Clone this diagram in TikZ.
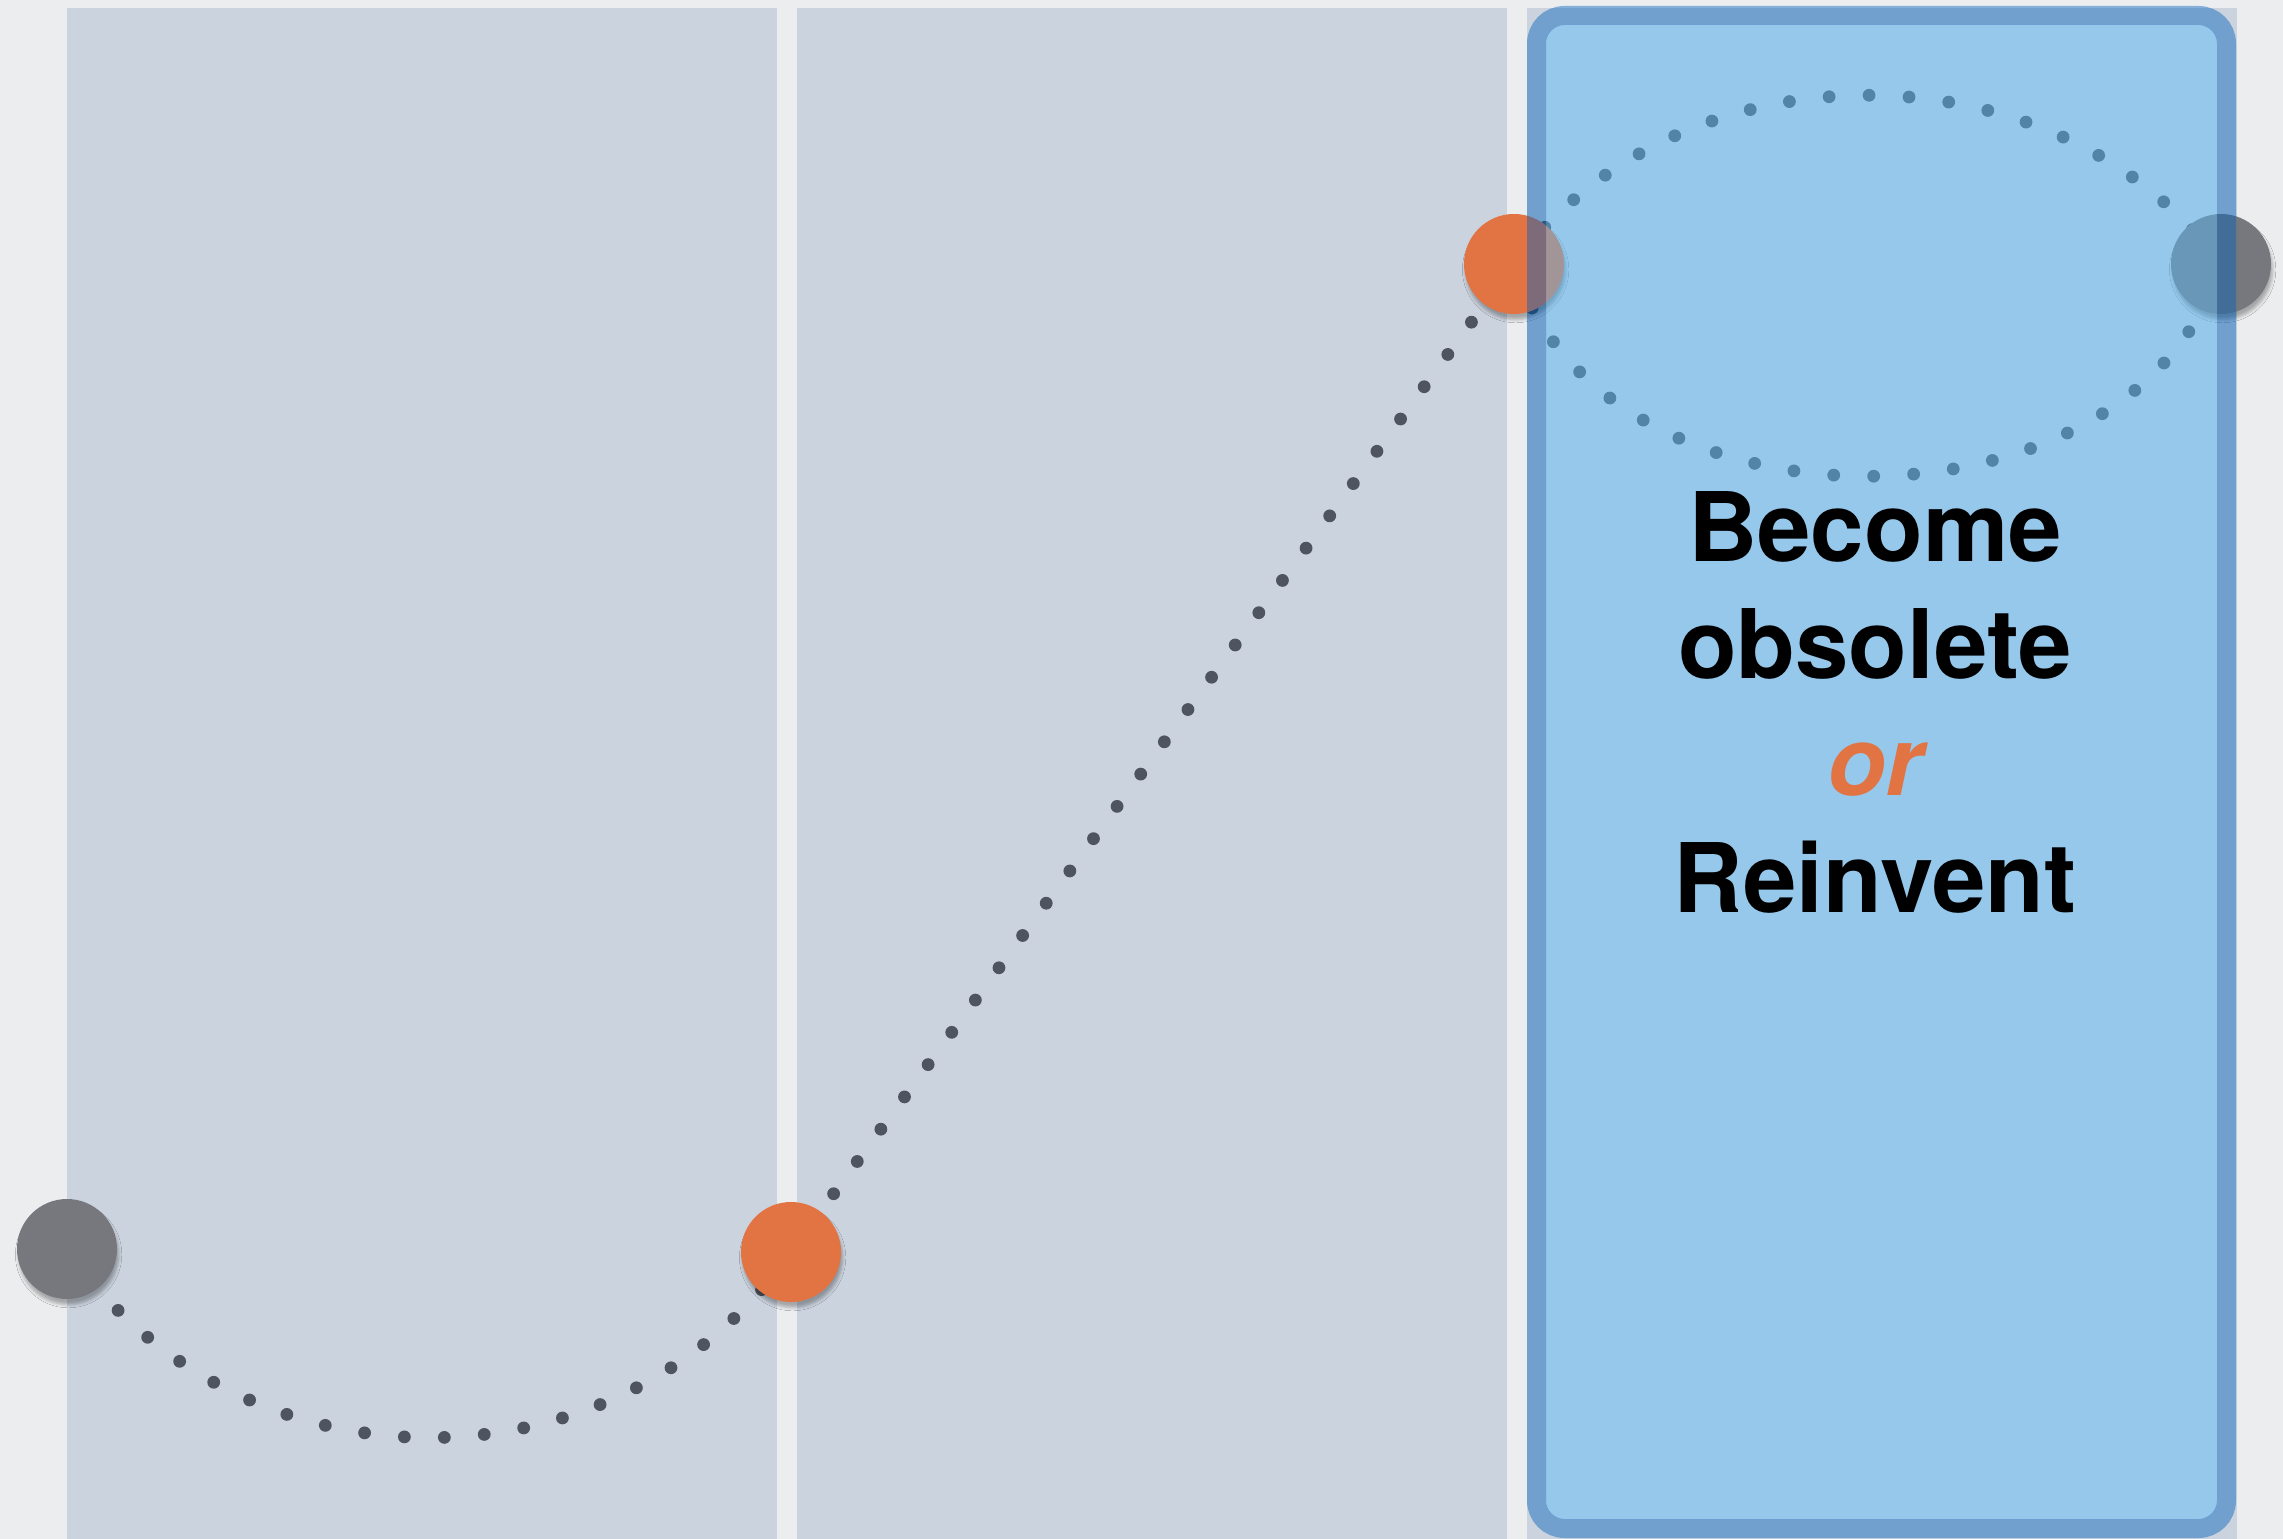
\documentclass[tikz,border=0pt]{standalone}
\usepackage{fontspec}
\setmainfont{TeX Gyre Heros}
\usetikzlibrary{shadows.blur}

\definecolor{paper}{RGB}{236,237,239}
\definecolor{panecol}{RGB}{203,211,222}
\definecolor{dotcol}{RGB}{78,85,96}
\definecolor{orangecol}{RGB}{226,116,67}
\definecolor{graycol}{RGB}{118,120,125}
\definecolor{skycol}{RGB}{88,189,252}
\definecolor{edgecol}{RGB}{0,97,190}

\tikzstyle{pane} = [fill=panecol]
\tikzstyle{trail} = [draw=dotcol, line width=3.2pt, line cap=round, dash pattern=on 0pt off 10pt]
\tikzstyle{ball} = [circle, minimum size=25pt, inner sep=0pt,
  blur shadow={shadow xshift=0.4pt, shadow yshift=-1.4pt, shadow blur radius=0.8pt, shadow opacity=30}]
\tikzstyle{frame} = [draw=edgecol, draw opacity=0.44, line width=4.75pt, rounded corners=7pt]
\tikzstyle{glass} = [fill=skycol, fill opacity=0.46, rounded corners=4.5pt]
\tikzstyle{words} = [align=center, font=\bfseries\fontsize{24}{29.25}\selectfont]

\begin{document}
\begin{tikzpicture}[x=0.25pt, y=-0.25pt]
  \useasboundingbox[fill=paper] (0,0) rectangle (2283,1539);

  % three columns
  \fill[pane] (67,8) rectangle (777,1539);
  \fill[pane] (797,8) rectangle (1507,1539);
  \fill[pane] (1527,8) rectangle (2237,1539);

  % stations on the path
  \coordinate (g1) at (67,1249);
  \coordinate (o1) at (791,1252);
  \coordinate (o2) at (1514,264);
  \coordinate (g2) at (2221,264);

  % dotted path
  \draw[trail] (g1) .. controls (240,1500) and (618,1500) .. (o1)
    -- (o2) .. controls (1680,39) and (2055,39) .. (g2)
    .. controls (2135,547) and (1600,547) .. (o2);

  \node[ball, fill=graycol] (start) at (g1) {};
  \node[ball, fill=orangecol] (rise) at (o1) {};
  \node[ball, fill=orangecol] (peak) at (o2) {};
  \node[ball, fill=graycol] (end) at (g2) {};

  % last column highlighted
  \fill[glass] (1546,25) rectangle (2217,1519);
  \draw[frame] (1536.5,15.5) rectangle (2226.5,1528.5);

  \node[words, anchor=base] (verdict) at (1875,913)
    {Become\\obsolete\\\textcolor{orangecol}{\itshape or}\\Reinvent};
\end{tikzpicture}
\end{document}
